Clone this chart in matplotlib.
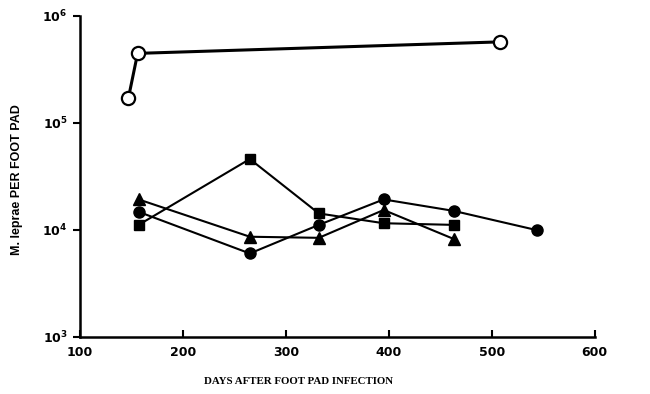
import matplotlib
matplotlib.use("Agg")
import matplotlib.pyplot as plt

# open circles
open_days = [147, 156, 508]
open_counts = [1.69e5, 4.45e5, 5.7e5]

# filled circles
circle_days = [157, 265, 332, 395, 463, 544]
circle_counts = [1.47e4, 6.0e3, 1.11e4, 1.92e4, 1.5e4, 9.9e3]

# triangles
tri_days = [157, 265, 332, 395, 463]
tri_counts = [1.92e4, 8.6e3, 8.4e3, 1.53e4, 8.2e3]

# squares
square_days = [157, 265, 332, 395, 463]
square_counts = [1.11e4, 4.58e4, 1.42e4, 1.15e4, 1.11e4]

x_ticks = [100, 200, 300, 400, 500, 600]
y_ticks = [1e3, 1e4, 1e5, 1e6]
y_tick_labels = ["10$^3$", "10$^4$", "10$^5$", "10$^6$"]

plt.rcParams["mathtext.fontset"] = "custom"
plt.rcParams["mathtext.rm"] = "DejaVu Sans:bold"

fig = plt.figure(figsize=(6.5, 3.94), dpi=100)
ax = fig.add_axes([0.123, 0.1454, 0.792, 0.8146])

ax.plot(open_days, open_counts, color="black", lw=2.2, marker="o", ms=9.5,
        mfc="white", mec="black", mew=1.6, zorder=3)
ax.plot(circle_days, circle_counts, color="black", lw=1.5, marker="o", ms=8, zorder=3)
ax.plot(tri_days, tri_counts, color="black", lw=1.5, marker="^", ms=8, zorder=3)
ax.plot(square_days, square_counts, color="black", lw=1.5, marker="s", ms=7.5, zorder=3)

ax.set_yscale("log")
ax.set_xlim(100, 600)
ax.set_ylim(1e3, 1e6)
ax.set_xticks(x_ticks)
ax.set_yticks(y_ticks)
ax.set_yticklabels(y_tick_labels)
ax.minorticks_off()

for s in ["top", "right"]:
    ax.spines[s].set_visible(False)
for s in ["left", "bottom"]:
    ax.spines[s].set_linewidth(1.8)

ax.tick_params(axis="x", direction="in", length=5, width=1.5, pad=7)
ax.tick_params(axis="y", direction="out", length=5, width=1.5, pad=4)
for lab in ax.get_xticklabels() + ax.get_yticklabels():
    lab.set_fontfamily("DejaVu Sans")
    lab.set_fontweight("bold")
    lab.set_fontsize(9)

ax.set_xlabel("DAYS AFTER FOOT PAD INFECTION", fontfamily="Liberation Serif",
              fontweight="bold", fontsize=7.8)
ax.xaxis.set_label_coords(0.425, -0.125)
ax.set_ylabel("M. leprae PER FOOT PAD", fontfamily="Liberation Sans",
              fontweight="bold", fontsize=9)
ax.yaxis.set_label_coords(-0.11, 0.49)

fig.savefig("out.png", dpi=100)
